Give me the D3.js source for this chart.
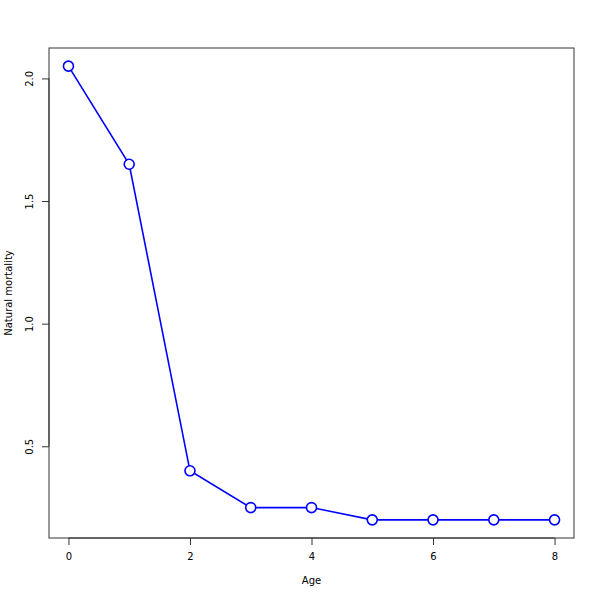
<!DOCTYPE html>
<html><head><meta charset="utf-8">
<script src="https://cdn.jsdelivr.net/npm/d3@7"></script>
<style>body{margin:0;background:#fff}svg{display:block}</style>
</head><body>
<script>
const ages = [0, 1, 2, 3, 4, 5, 6, 7, 8];
const mortality = [2.05, 1.65, 0.40, 0.25, 0.25, 0.20, 0.20, 0.20, 0.20];
const xTicks = [0, 2, 4, 6, 8];
const yTicks = [0.5, 1.0, 1.5, 2.0];
const xLabel = "Age";
const yLabel = "Natural mortality";

const W = 600, H = 600;
const L = 49, R = 574, T = 48, B = 538;
const svg = d3.select("body").append("svg").attr("width", W).attr("height", H);

const xmin = d3.min(ages), xmax = d3.max(ages), xr = (xmax - xmin) * 0.04;
const ymin = d3.min(mortality), ymax = d3.max(mortality), yr = (ymax - ymin) * 0.04;
const x = d3.scaleLinear().domain([xmin - xr, xmax + xr]).range([L, R]);
const y = d3.scaleLinear().domain([ymin - yr, ymax + yr]).range([B, T]);

const font = "DejaVu Sans, sans-serif";
const fs = 10;

// x axis
const gx = svg.append("g").attr("transform", `translate(0,${B})`)
  .call(d3.axisBottom(x).tickValues(xTicks).tickFormat(d3.format("d")).tickSize(7).tickPadding(8));
gx.select(".domain").attr("d", `M${x(xTicks[0])},0H${x(xTicks[xTicks.length-1])}`).attr("stroke", "#333");
gx.selectAll(".tick line").attr("stroke", "#333");
gx.selectAll("text").attr("font-family", font).attr("font-size", fs).attr("fill", "#000");

// y axis
const gy = svg.append("g").attr("transform", `translate(${L},0)`)
  .call(d3.axisLeft(y).tickValues(yTicks).tickFormat(d3.format(".1f")).tickSize(7));
gy.select(".domain").attr("d", `M0,${y(yTicks[0])}V${y(yTicks[yTicks.length-1])}`).attr("stroke", "#333");
gy.selectAll(".tick line").attr("stroke", "#333");
gy.selectAll(".tick text").attr("font-family", font).attr("font-size", fs).attr("fill", "#000")
  .attr("x", null).attr("dy", null)
  .attr("transform", "translate(-16,0) rotate(-90)")
  .attr("text-anchor", "middle").attr("dominant-baseline", "auto");

// box
svg.append("rect").attr("x", L).attr("y", T).attr("width", R - L).attr("height", B - T)
  .attr("fill", "none").attr("stroke", "#333").attr("stroke-width", 1);

// labels
svg.append("text").attr("x", (L + R) / 2).attr("y", 584).attr("text-anchor", "middle")
  .attr("font-family", font).attr("font-size", fs).text(xLabel);
svg.append("text").attr("transform", `translate(12,${(T + B) / 2}) rotate(-90)`)
  .attr("text-anchor", "middle").attr("font-family", font).attr("font-size", fs).text(yLabel);

const data = ages.map((a, i) => ({a, m: mortality[i]}));
svg.append("path").datum(data)
  .attr("d", d3.line().x(d => x(d.a)).y(d => y(d.m)))
  .attr("fill", "none").attr("stroke", "#0000ff").attr("stroke-width", 1.6);
svg.selectAll("circle.pt").data(data).enter().append("circle")
  .attr("cx", d => x(d.a)).attr("cy", d => y(d.m)).attr("r", 5)
  .attr("fill", "#fff").attr("stroke", "#0000ff").attr("stroke-width", 1.6);
</script>
</body></html>
